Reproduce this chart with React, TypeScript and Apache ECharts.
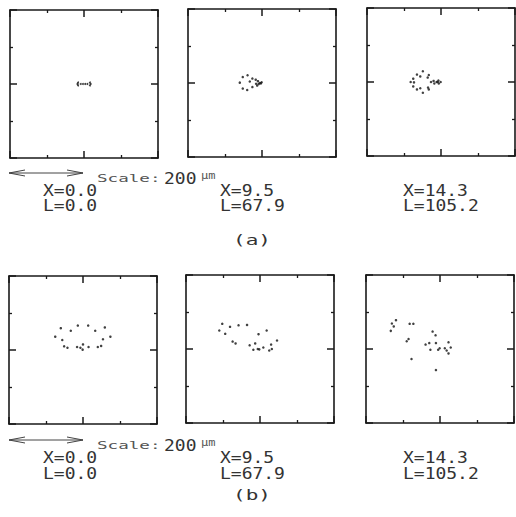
import React, { useEffect, useRef } from "react";
import * as echarts from "echarts";

// Particle positions (µm) relative to panel centre
const panelA1: [number, number][] = [
  [-16, 4], [-18, 0], [-16, -4], [-9, 0], [-3, 0], [3, 0], [9, 0], [16, 4], [18, 0], [16, -4],
];
const panelA2: [number, number][] = [
  [-52, 16], [-39, 21], [-60, 1], [-52, -15], [-40, -19], [-26, 12], [-33, 4], [-26, -11],
  [-17, 9], [-13, -7], [-11, 5], [-6, 0], [-1, 2], [-16, -2], [-9, -3], [-3, -1],
];
const panelA3: [number, number][] = [
  [-49, 29], [-65, 20], [-56, 15], [-33, 19], [-75, 9], [-82, 0], [-73, -1], [-75, -12],
  [-65, -20], [-56, -17], [-49, -29], [-35, -15], [-33, -20], [-36, 12], [-27, 0], [-20, 3],
  [-18, -4], [-12, 0], [-7, 4], [-6, -4], [-1, 0], [-9, 0],
];
const panelB1: [number, number][] = [
  [-60, 59], [-33, 52], [-14, 66], [14, 66], [33, 52], [59, 61], [-75, 36], [-56, 27],
  [54, 29], [74, 36], [-51, 10], [-42, 6], [-16, 8], [-7, 6], [0, 15], [-1, 1], [15, 8],
  [40, 8], [49, 11],
];
const panelB2: [number, number][] = [
  [-102, 68], [-110, 50], [-94, 41], [-81, 60], [-58, 64], [-35, 65], [-74, 20], [-66, 15],
  [-4, 40], [18, 50], [-28, 10], [-13, 15], [-18, -2], [-6, 0], [-2, -1], [9, 4], [25, -4],
  [30, 12], [32, 0], [46, 23],
];
const panelB3: [number, number][] = [
  [-133, 49], [-130, 69], [-125, 61], [-119, 78], [-82, 68], [-72, 68], [-90, 21], [-85, 27],
  [-77, -27], [-39, 12], [-29, 16], [-26, -2], [-20, 47], [-12, 37], [-11, 16], [-5, -2],
  [-1, 2], [13, 2], [18, -4], [23, 18], [29, 4], [23, -12], [-11, -57],
];

const xLabels = ["X=0.0", "X=9.5", "X=14.3"];
const lLabels = ["L=0.0", "L=67.9", "L=105.2"];
const rowTags = ["(a)", "(b)"];
const scaleWord = "Scale:";
const scaleValue = "200";
const scaleUnit = "µm";

const panels = [panelA1, panelA2, panelA3, panelB1, panelB2, panelB3];
const gridBoxes = [
  { left: 10, top: 10 }, { left: 188, top: 9 }, { left: 367, top: 8 },
  { left: 9, top: 276 }, { left: 186, top: 275 }, { left: 366, top: 275 },
];
const SIZE = 148;
const INK = "#1a1a1a";
const FONT = "DejaVu Sans Mono";

function axisCfg(gridIndex: number, position: string) {
  return {
    type: "value",
    gridIndex,
    position,
    min: -200,
    max: 200,
    interval: 200,
    axisLine: { show: true, onZero: false, lineStyle: { color: INK, width: 1.6 } },
    axisTick: { show: true, inside: true, length: 7, lineStyle: { color: INK, width: 1.5 } },
    minorTick: { show: true, splitNumber: 2, length: 3, lineStyle: { color: INK, width: 1.3 } },
    axisLabel: { show: false },
    splitLine: { show: false },
    minorSplitLine: { show: false },
  };
}

function txt(text: string, x: number, y: number, fontSize: number, sx: number, fill = "#333") {
  return {
    type: "text",
    x,
    y,
    scaleX: sx,
    style: {
      text,
      fontFamily: FONT,
      fontSize,
      fill,
      textAlign: "left",
      textVerticalAlign: "middle",
    },
  };
}

function arrow(x1: number, x2: number, y: number) {
  const s = { stroke: "#444", lineWidth: 1 };
  return [
    { type: "line", shape: { x1, y1: y, x2, y2: y }, style: s },
    { type: "polyline", shape: { points: [[x1 + 16, y - 3], [x1, y], [x1 + 16, y + 3]] }, style: { ...s, fill: null } },
    { type: "polyline", shape: { points: [[x2 - 16, y - 3], [x2, y], [x2 - 16, y + 3]] }, style: { ...s, fill: null } },
  ];
}

export default function App() {
  const ref = useRef<HTMLDivElement>(null);
  useEffect(() => {
    if (!ref.current) return;
    const chart = echarts.init(ref.current, null, { renderer: "svg" });

    const grid = gridBoxes.map((b) => ({ left: b.left, top: b.top, width: SIZE, height: SIZE }));
    const xAxis: any[] = [];
    const yAxis: any[] = [];
    gridBoxes.forEach((_, i) => {
      xAxis.push(axisCfg(i, "bottom"), axisCfg(i, "top"));
      yAxis.push(axisCfg(i, "left"), axisCfg(i, "right"));
    });
    const series = panels.map((data, i) => ({
      type: "scatter",
      xAxisIndex: 2 * i,
      yAxisIndex: 2 * i,
      data,
      symbolSize: i === 0 ? 2 : 2.5,
      itemStyle: { color: "#111" },
      silent: true,
    }));

    const rows = [
      { arrowY: 173, scaleY: 178, xY: 191, lY: 206, tagY: 240 },
      { arrowY: 440, scaleY: 445, xY: 458, lY: 474, tagY: 495 },
    ];
    const colX = [43, 220, 403];
    const graphic: any[] = [];
    rows.forEach((r, ri) => {
      graphic.push(...arrow(9, 83, r.arrowY));
      graphic.push(txt(scaleWord, 97, r.scaleY, 11, 1.6, "#555"));
      graphic.push(txt(scaleValue, 164, r.scaleY + 1, 15, 1.2));
      graphic.push(txt(scaleUnit, 201, r.scaleY - 2, 10, 1.2, "#555"));
      colX.forEach((cx, ci) => {
        graphic.push(txt(xLabels[ci], cx, r.xY, 15, 1.2));
        graphic.push(txt(lLabels[ci], cx, r.lY, 15, 1.2));
      });
      graphic.push(txt(rowTags[ri], 233, r.tagY, 14, 1.5));
    });

    chart.setOption({
      animation: false,
      backgroundColor: "#fff",
      grid,
      xAxis,
      yAxis,
      series,
      graphic,
    });
    return () => chart.dispose();
  }, []);
  return (
    <div
      ref={ref}
      style={{ position: "absolute", left: 0, top: 0, width: 516, height: 517 }}
    />
  );
}
